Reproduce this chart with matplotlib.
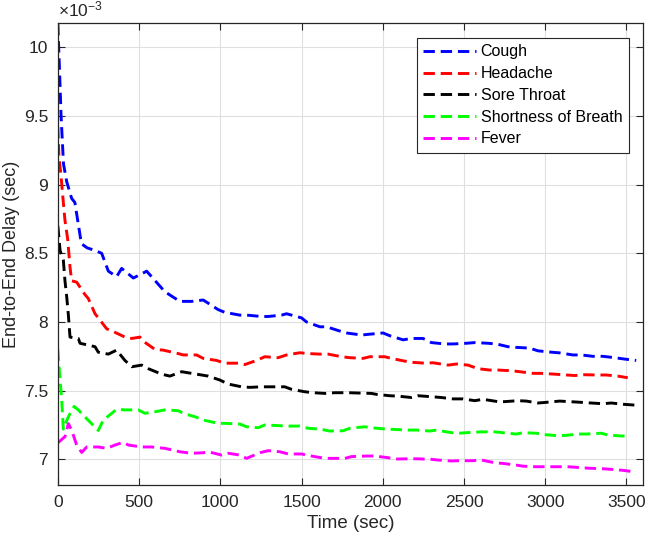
import matplotlib
matplotlib.use("Agg")
import matplotlib.pyplot as plt
from matplotlib.ticker import FuncFormatter

# ---- data (delay values in units of 1e-3 s) ----
t_cough = [0, 10, 20, 35, 55, 85, 105, 125, 145, 180, 230, 270, 311, 362, 393, 465, 547, 577, 659, 751,
           823, 895, 987, 1028, 1120, 1162, 1254, 1295, 1377, 1408, 1500, 1531, 1613, 1654, 1746, 1777,
           1869, 1910, 2002, 2043, 2125, 2176, 2248, 2299, 2381, 2432, 2515, 2566, 2648, 2699, 2771, 2822,
           2904, 2955, 3038, 3089, 3170, 3222, 3293, 3355, 3427, 3488, 3560]
cough = [10.17, 9.85, 9.5, 9.15, 9.02, 8.9, 8.87, 8.72, 8.57, 8.54, 8.52, 8.50, 8.37, 8.33, 8.39, 8.32,
         8.37, 8.33, 8.22, 8.15, 8.15, 8.16, 8.09, 8.07, 8.05, 8.05, 8.04, 8.04, 8.05, 8.06, 8.03, 8.0,
         7.965, 7.965, 7.93, 7.92, 7.905, 7.91, 7.92, 7.90, 7.87, 7.88, 7.88, 7.85, 7.84, 7.84, 7.845,
         7.85, 7.845, 7.84, 7.82, 7.815, 7.81, 7.79, 7.78, 7.775, 7.76, 7.76, 7.75, 7.75, 7.74, 7.73, 7.72]

t_headache = [0, 7, 20, 34, 44, 61, 75, 85, 116, 167, 188, 229, 249, 301, 342, 413, 455, 506, 526, 598,
              649, 741, 772, 854, 895, 977, 1028, 1110, 1151, 1223, 1274, 1356, 1408, 1490, 1541, 1613,
              1664, 1746, 1797, 1879, 1920, 2012, 2053, 2135, 2186, 2258, 2309, 2402, 2453, 2525, 2586,
              2658, 2709, 2791, 2843, 2924, 2976, 3058, 3109, 3181, 3242, 3314, 3375, 3447, 3508]
headache = [9.42, 9.2, 9.06, 8.87, 8.74, 8.6, 8.40, 8.30, 8.29, 8.20, 8.17, 8.06, 8.03, 7.95, 7.93, 7.89,
            7.88, 7.89, 7.86, 7.80, 7.795, 7.77, 7.76, 7.76, 7.735, 7.72, 7.70, 7.70, 7.69, 7.72, 7.747,
            7.74, 7.76, 7.776, 7.77, 7.766, 7.766, 7.747, 7.74, 7.735, 7.747, 7.747, 7.735, 7.715, 7.706,
            7.70, 7.703, 7.686, 7.694, 7.686, 7.66, 7.65, 7.65, 7.645, 7.638, 7.626, 7.626, 7.62, 7.616,
            7.61, 7.616, 7.614, 7.614, 7.606, 7.594]

t_sore = [0, 14, 34, 44, 55, 65, 75, 126, 137, 229, 249, 311, 362, 413, 455, 516, 557, 639, 690, 762,
          803, 885, 926, 998, 1049, 1131, 1182, 1254, 1316, 1397, 1438, 1520, 1572, 1644, 1705, 1787,
          1930, 1961, 2043, 2094, 2176, 2217, 2299, 2361, 2432, 2494, 2566, 2617, 2709, 2750, 2832, 2884,
          2955, 3007, 3089, 3150, 3222, 3283, 3355, 3407, 3488, 3550]
sore_throat = [8.7, 8.52, 8.45, 8.30, 8.18, 8.05, 7.89, 7.88, 7.845, 7.82, 7.78, 7.766, 7.795, 7.72,
               7.674, 7.686, 7.66, 7.62, 7.606, 7.638, 7.63, 7.614, 7.606, 7.577, 7.548, 7.528, 7.524,
               7.528, 7.528, 7.528, 7.51, 7.492, 7.485, 7.48, 7.485, 7.485, 7.48, 7.473, 7.463, 7.46,
               7.45, 7.463, 7.456, 7.45, 7.44, 7.44, 7.427, 7.437, 7.42, 7.42, 7.427, 7.424, 7.41, 7.415,
               7.424, 7.42, 7.415, 7.41, 7.405, 7.41, 7.40, 7.395]

t_breath = [0, 14, 24, 34, 44, 65, 100, 126, 157, 208, 249, 280, 311, 362, 413, 495, 536, 598, 659, 741,
            772, 844, 895, 987, 1028, 1120, 1162, 1233, 1274, 1367, 1408, 1490, 1541, 1623, 1674, 1756,
            1797, 1889, 1930, 2022, 2063, 2155, 2208, 2289, 2330, 2412, 2463, 2545, 2607, 2689, 2822,
            2863, 2945, 2996, 3078, 3130, 3211, 3252, 3345, 3385, 3468, 3519]
breath = [7.8, 7.577, 7.43, 7.22, 7.25, 7.31, 7.385, 7.36, 7.32, 7.26, 7.21, 7.286, 7.315, 7.364, 7.36,
          7.36, 7.335, 7.346, 7.36, 7.354, 7.335, 7.31, 7.286, 7.262, 7.262, 7.257, 7.237, 7.23, 7.25,
          7.245, 7.242, 7.242, 7.226, 7.218, 7.206, 7.208, 7.226, 7.237, 7.23, 7.22, 7.218, 7.213, 7.213,
          7.206, 7.213, 7.196, 7.19, 7.196, 7.2, 7.2, 7.184, 7.194, 7.19, 7.18, 7.172, 7.175, 7.184,
          7.184, 7.19, 7.177, 7.17, 7.17]

t_fever = [0, 44, 65, 85, 116, 147, 178, 249, 301, 352, 403, 434, 516, 577, 659, 751, 823, 895, 926,
           1008, 1049, 1120, 1162, 1244, 1295, 1367, 1418, 1500, 1551, 1644, 1684, 1767, 1808, 1900, 1951,
           2033, 2074, 2166, 2207, 2299, 2340, 2422, 2473, 2555, 2607, 2689, 2740, 2822, 2863, 2945, 3007,
           3089, 3140, 3211, 3273, 3345, 3407, 3478, 3540]
fever = [7.12, 7.165, 7.26, 7.213, 7.104, 7.05, 7.09, 7.09, 7.08, 7.104, 7.124, 7.104, 7.09, 7.09, 7.08,
         7.055, 7.044, 7.048, 7.055, 7.031, 7.044, 7.031, 7.007, 7.048, 7.063, 7.055, 7.039, 7.039, 7.026,
         7.007, 7.007, 7.007, 7.02, 7.024, 7.024, 7.012, 7.002, 7.004, 7.004, 7.0, 6.995, 6.988, 6.99,
         6.99, 6.995, 6.975, 6.97, 6.958, 6.95, 6.946, 6.946, 6.946, 6.946, 6.94, 6.935, 6.932, 6.927,
         6.92, 6.91]

labels = ["Cough", "Headache", "Sore Throat", "Shortness of Breath", "Fever"]
colors = ["#0000ff", "#ff0000", "#000000", "#00ff00", "#ff00ff"]
series = [(t_cough, cough), (t_headache, headache), (t_sore, sore_throat), (t_breath, breath), (t_fever, fever)]

x_ticks = [0, 500, 1000, 1500, 2000, 2500, 3000, 3500]
y_ticks = [7, 7.5, 8, 8.5, 9, 9.5, 10]

plt.rcParams['font.family'] = ['Liberation Sans', 'DejaVu Sans']
plt.rcParams['mathtext.fontset'] = 'custom'
plt.rcParams['mathtext.rm'] = 'Liberation Sans'
plt.rcParams['mathtext.it'] = 'Liberation Sans'
axcol = '#262626'

fig = plt.figure(figsize=(6.46, 5.41), dpi=100)
ax = fig.add_axes([0.0895, 0.1035, 0.9054, 0.8535])

for (tt, vv), lab, c in zip(series, labels, colors):
    ax.plot(tt, vv, linestyle=(0, (3.9, 2.0)), color=c, linewidth=2.1, label=lab)

ax.set_xlim(0, 3600)
ax.set_ylim(6.813, 10.175)
ax.set_xticks(x_ticks)
ax.set_yticks(y_ticks)
ax.yaxis.set_major_formatter(FuncFormatter(lambda v, p: f"{v:g}"))
ax.grid(True, color='#dfdfdf', linewidth=0.8)
ax.set_axisbelow(True)
ax.tick_params(direction='in', length=5, width=0.8, top=True, right=True,
               labelsize=12.5, colors=axcol, pad=7)
for sp in ax.spines.values():
    sp.set_color(axcol)
    sp.set_linewidth(0.9)

ax.set_xlabel("Time (sec)", fontsize=13.5, color=axcol, labelpad=4)
ax.set_ylabel("End-to-End Delay (sec)", fontsize=13, color=axcol, labelpad=3)
ax.text(0.0, 1.008, r"$\times10^{-3}$", transform=ax.transAxes, fontsize=12.5,
        color=axcol, ha='left', va='bottom')

leg = ax.legend(loc='upper right', bbox_to_anchor=(0.976, 0.968), fontsize=11.5,
                frameon=True, fancybox=False, edgecolor=axcol, framealpha=1,
                handlelength=3.3, handletextpad=0.3, labelspacing=0.42, borderpad=0.4,
                borderaxespad=0.0)
leg.get_frame().set_linewidth(0.8)

fig.savefig("out.png", dpi=100)
